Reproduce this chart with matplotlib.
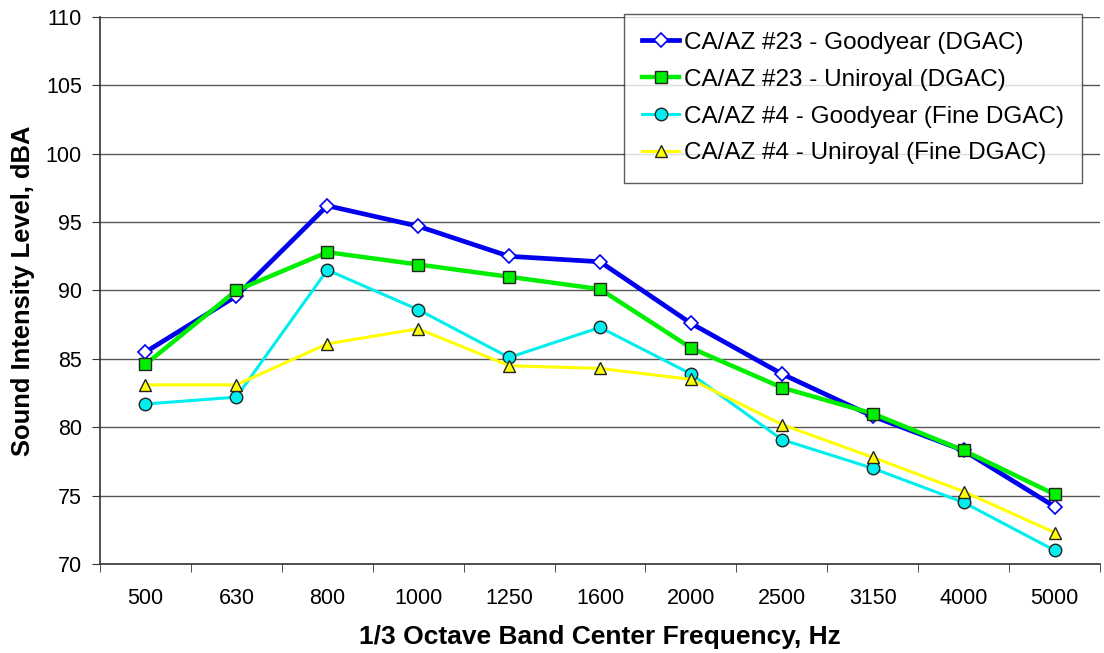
import matplotlib
matplotlib.use("Agg")
import matplotlib.pyplot as plt
import numpy as np

plt.rcParams['font.family'] = ['Liberation Sans', 'DejaVu Sans']

categories = ["500", "630", "800", "1000", "1250", "1600", "2000", "2500", "3150", "4000", "5000"]
gy23 = [85.5, 89.6, 96.2, 94.7, 92.5, 92.1, 87.6, 83.9, 80.8, 78.3, 74.2]
un23 = [84.6, 90.0, 92.8, 91.9, 91.0, 90.1, 85.8, 82.9, 81.0, 78.3, 75.1]
gy4 = [81.7, 82.2, 91.5, 88.6, 85.1, 87.3, 83.9, 79.1, 77.0, 74.5, 71.0]
un4 = [83.1, 83.1, 86.1, 87.2, 84.5, 84.3, 83.5, 80.2, 77.8, 75.3, 72.3]
labels = ["CA/AZ #23 - Goodyear (DGAC)", "CA/AZ #23 - Uniroyal (DGAC)",
          "CA/AZ #4 - Goodyear (Fine DGAC)", "CA/AZ #4 - Uniroyal (Fine DGAC)"]

fig = plt.figure(figsize=(11.04, 6.53), dpi=100)
ax = fig.add_axes([0.0906, 0.1363, 0.9058, 0.8377])
x = np.arange(len(categories))

ax.plot(x, gy23, color='#0000ee', lw=3.4, marker='D', ms=7.5, mfc='white', mec='#0000ee', mew=1.2, label=labels[0], zorder=4)
ax.plot(x, un23, color='#00ee00', lw=3.2, marker='s', ms=9, mfc='#00ee00', mec='#222222', mew=1.0, label=labels[1], zorder=4)
ax.plot(x, gy4, color='#00eeee', lw=2.2, marker='o', ms=9, mfc='#00eeee', mec='#222222', mew=1.0, label=labels[2], zorder=4)
ax.plot(x, un4, color='#ffff00', lw=2.2, marker='^', ms=9, mfc='#ffff00', mec='#222222', mew=1.0, label=labels[3], zorder=4)

ax.set_xlim(-0.5, len(categories) - 0.5)
ax.set_ylim(70, 110)
ax.set_yticks(np.arange(70, 111, 5))
ax.set_xticks(x)
ax.set_xticklabels(categories)
ax.set_xticks(np.arange(-0.5, len(categories), 1), minor=True)
ax.tick_params(axis='x', which='major', length=0, pad=17, labelsize=15.5)
ax.tick_params(axis='x', which='minor', length=6, direction='out', color='#333333')
ax.tick_params(axis='y', length=6, direction='out', labelsize=15.5, pad=7, color='#333333')
ax.yaxis.grid(True, color='#555555', lw=1.0)
ax.set_axisbelow(True)
for s in ['top', 'right']:
    ax.spines[s].set_visible(False)
for s in ['left', 'bottom']:
    ax.spines[s].set_color('#333333')
    ax.spines[s].set_linewidth(1.2)

ax.set_xlabel("1/3 Octave Band Center Frequency, Hz", fontsize=19, fontweight='bold', labelpad=12)
ax.set_ylabel("Sound Intensity Level, dBA", fontsize=18.4, fontweight='bold', labelpad=8)

leg = ax.legend(loc='upper right', bbox_to_anchor=(0.980, 0.979), bbox_transform=fig.transFigure,
                fontsize=17.5, frameon=True, fancybox=False, edgecolor='#333333', borderaxespad=0,
                handlelength=1.5, handletextpad=0.2, labelspacing=0.61, borderpad=0.75)
leg.get_frame().set_linewidth(1.0)
leg.set_zorder(10)

fig.savefig("out.png", dpi=100)
